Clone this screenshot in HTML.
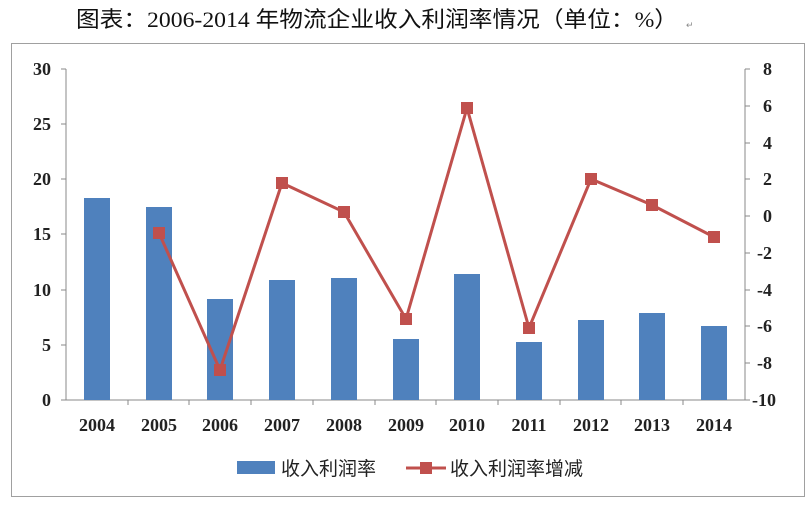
<!DOCTYPE html>
<html><head><meta charset="utf-8"><style>body{margin:0;background:#fff}</style></head>
<body>
<svg width="810" height="502" xmlns="http://www.w3.org/2000/svg" font-family="'Liberation Serif','Noto Serif CJK SC',serif">
<rect width="810" height="502" fill="#fff"/>
<text x="76" y="27" font-size="22" textLength="602" lengthAdjust="spacingAndGlyphs" font-family="'Liberation Serif','Noto Sans CJK SC',serif" fill="#111">图表：2006-2014 年物流企业收入利润率情况（单位：%）</text>
<text x="686" y="28" font-size="9" fill="#888">↵</text>
<rect x="11.5" y="43.5" width="793" height="453" fill="none" stroke="#a0a0a0"/>
<g stroke="#888" fill="none">
<line x1="66" y1="69" x2="66" y2="400"/>
<line x1="745" y1="69" x2="745" y2="400"/>
<line x1="66" y1="400" x2="745" y2="400"/>
</g>
<g stroke="#888">
<line x1="61" y1="69" x2="66" y2="69"/><line x1="61" y1="124" x2="66" y2="124"/><line x1="61" y1="179" x2="66" y2="179"/><line x1="61" y1="234" x2="66" y2="234"/><line x1="61" y1="290" x2="66" y2="290"/><line x1="61" y1="345" x2="66" y2="345"/><line x1="61" y1="400" x2="66" y2="400"/>
<line x1="745" y1="69" x2="750" y2="69"/><line x1="745" y1="106" x2="750" y2="106"/><line x1="745" y1="143" x2="750" y2="143"/><line x1="745" y1="179" x2="750" y2="179"/><line x1="745" y1="216" x2="750" y2="216"/><line x1="745" y1="253" x2="750" y2="253"/><line x1="745" y1="290" x2="750" y2="290"/><line x1="745" y1="326" x2="750" y2="326"/><line x1="745" y1="363" x2="750" y2="363"/><line x1="745" y1="400" x2="750" y2="400"/>
<line x1="128" y1="400" x2="128" y2="405"/><line x1="189" y1="400" x2="189" y2="405"/><line x1="251" y1="400" x2="251" y2="405"/><line x1="313" y1="400" x2="313" y2="405"/><line x1="375" y1="400" x2="375" y2="405"/><line x1="436" y1="400" x2="436" y2="405"/><line x1="498" y1="400" x2="498" y2="405"/><line x1="560" y1="400" x2="560" y2="405"/><line x1="621" y1="400" x2="621" y2="405"/><line x1="683" y1="400" x2="683" y2="405"/>
</g>
<g font-size="18" fill="#222" text-anchor="end" font-weight="bold">
<text x="51" y="75">30</text><text x="51" y="130">25</text><text x="51" y="185">20</text><text x="51" y="240">15</text><text x="51" y="296">10</text><text x="51" y="351">5</text><text x="51" y="406">0</text>
</g>
<g font-size="18" fill="#222" text-anchor="start" font-weight="bold">
<text x="763" y="75">8</text><text x="763" y="112">6</text><text x="763" y="149">4</text><text x="763" y="185">2</text><text x="763" y="222">0</text><text x="757" y="259">-2</text><text x="757" y="296">-4</text><text x="757" y="332">-6</text><text x="757" y="369">-8</text><text x="752" y="406">-10</text>
</g>
<g fill="#4f81bd">
<rect x="84" y="198" width="26" height="202"/>
<rect x="146" y="207" width="26" height="193"/>
<rect x="207" y="299" width="26" height="101"/>
<rect x="269" y="280" width="26" height="120"/>
<rect x="331" y="278" width="26" height="122"/>
<rect x="393" y="339" width="26" height="61"/>
<rect x="454" y="274" width="26" height="126"/>
<rect x="516" y="342" width="26" height="58"/>
<rect x="578" y="320" width="26" height="80"/>
<rect x="639" y="313" width="26" height="87"/>
<rect x="701" y="326" width="26" height="74"/>
</g>
<polyline fill="none" stroke="#c0504d" stroke-width="3" points="159,233 220,370 282,183 344,212 406,319 467,108 529,328 591,179 652,205 714,237"/>
<g fill="#c0504d">
<rect x="153" y="227" width="12" height="12"/><rect x="214" y="364" width="12" height="12"/><rect x="276" y="177" width="12" height="12"/><rect x="338" y="206" width="12" height="12"/><rect x="400" y="313" width="12" height="12"/><rect x="461" y="102" width="12" height="12"/><rect x="523" y="322" width="12" height="12"/><rect x="585" y="173" width="12" height="12"/><rect x="646" y="199" width="12" height="12"/><rect x="708" y="231" width="12" height="12"/>
</g>
<g font-size="18" fill="#222" text-anchor="middle" font-weight="bold">
<text x="97" y="431">2004</text><text x="159" y="431">2005</text><text x="220" y="431">2006</text><text x="282" y="431">2007</text><text x="344" y="431">2008</text><text x="406" y="431">2009</text><text x="467" y="431">2010</text><text x="529" y="431">2011</text><text x="591" y="431">2012</text><text x="652" y="431">2013</text><text x="714" y="431">2014</text>
</g>
<rect x="237" y="461" width="38" height="13" fill="#4f81bd"/>
<text x="281" y="475" font-size="19" fill="#222" font-family="'Noto Sans CJK SC',sans-serif">收入利润率</text>
<line x1="406" y1="468" x2="446" y2="468" stroke="#c0504d" stroke-width="3"/>
<rect x="420" y="462" width="12" height="12" fill="#c0504d"/>
<text x="450" y="475" font-size="19" fill="#222" font-family="'Noto Sans CJK SC',sans-serif">收入利润率增减</text>
</svg>
</body></html>
